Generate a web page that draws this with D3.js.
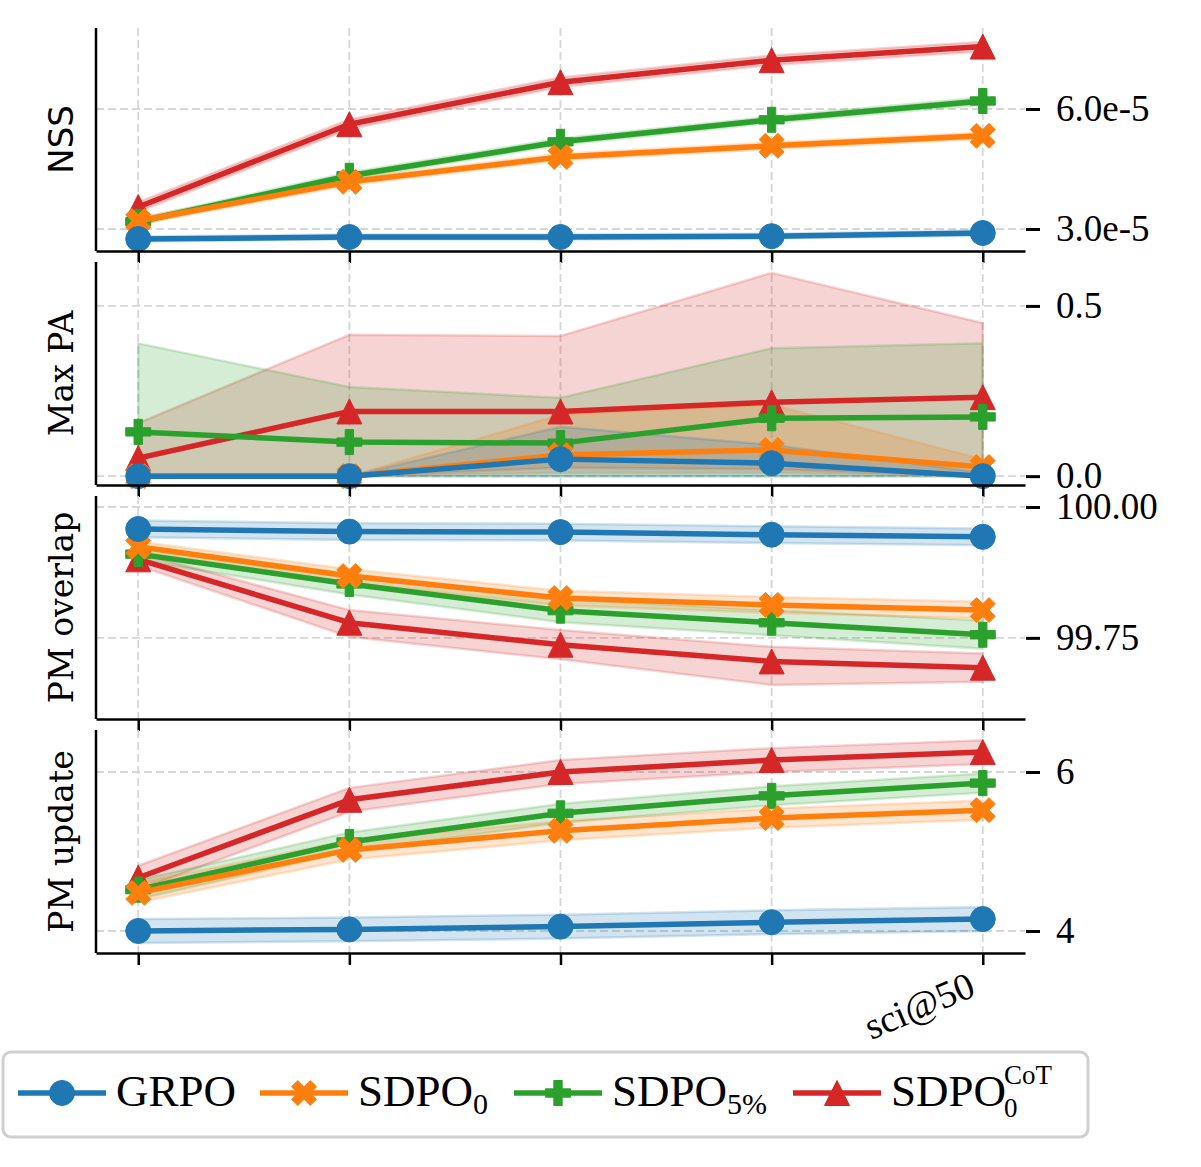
<!DOCTYPE html>
<html><head><meta charset="utf-8">
<script src="https://cdn.jsdelivr.net/npm/d3@7"></script>
<style>body{margin:0;background:#fff;} svg{display:block;}</style>
</head><body>
<svg id="chart" width="1201" height="1167"></svg>
<script>
// ---------------- DATA ----------------
const xLabels = ["", "", "", "", "sci@50"];
const seriesNames = ["GRPO", "SDPO0", "SDPO5%", "SDPO0CoT"];
const seriesColors = ["#1f77b4", "#ff7f0e", "#2ca02c", "#d62728"];
const seriesMarkers = ["circle", "x", "plus", "triangle"];

// NSS
const nssGRPO     = [2.75e-5, 2.80e-5, 2.80e-5, 2.82e-5, 2.90e-5];
const nssGRPOLo   = [2.69e-5, 2.74e-5, 2.74e-5, 2.76e-5, 2.84e-5];
const nssGRPOHi   = [2.81e-5, 2.86e-5, 2.86e-5, 2.88e-5, 2.96e-5];
const nssSDPO0    = [3.20e-5, 4.18e-5, 4.80e-5, 5.08e-5, 5.33e-5];
const nssSDPO0Lo  = [3.12e-5, 4.10e-5, 4.72e-5, 5.00e-5, 5.25e-5];
const nssSDPO0Hi  = [3.28e-5, 4.26e-5, 4.88e-5, 5.16e-5, 5.41e-5];
const nssSDPO5    = [3.18e-5, 4.33e-5, 5.18e-5, 5.73e-5, 6.20e-5];
const nssSDPO5Lo  = [3.10e-5, 4.25e-5, 5.10e-5, 5.65e-5, 6.11e-5];
const nssSDPO5Hi  = [3.26e-5, 4.41e-5, 5.26e-5, 5.81e-5, 6.29e-5];
const nssCoT      = [3.55e-5, 5.62e-5, 6.67e-5, 7.22e-5, 7.56e-5];
const nssCoTLo    = [3.43e-5, 5.50e-5, 6.55e-5, 7.10e-5, 7.44e-5];
const nssCoTHi    = [3.67e-5, 5.74e-5, 6.79e-5, 7.34e-5, 7.68e-5];

// Max PA
const paGRPO      = [0.000, 0.000, 0.050, 0.038, 0.000];
const paGRPOLo    = [0.000, 0.000, 0.000, 0.000, 0.000];
const paGRPOHi    = [0.000, 0.000, 0.145, 0.092, 0.010];
const paSDPO0     = [0.000, 0.000, 0.062, 0.077, 0.027];
const paSDPO0Lo   = [0.000, 0.000, 0.010, 0.010, 0.000];
const paSDPO0Hi   = [0.000, 0.000, 0.180, 0.210, 0.050];
const paSDPO5     = [0.130, 0.100, 0.097, 0.170, 0.174];
const paSDPO5Lo   = [0.000, 0.000, 0.000, 0.000, 0.000];
const paSDPO5Hi   = [0.390, 0.262, 0.230, 0.376, 0.390];
const paCoT       = [0.053, 0.190, 0.190, 0.217, 0.232];
const paCoTLo     = [0.000, 0.000, 0.025, 0.020, 0.000];
const paCoTHi     = [0.156, 0.415, 0.412, 0.597, 0.450];

// PM overlap
const ovGRPO      = [99.958, 99.953, 99.952, 99.947, 99.943];
const ovGRPOLo    = [99.942, 99.937, 99.936, 99.931, 99.927];
const ovGRPOHi    = [99.974, 99.969, 99.968, 99.963, 99.959];
const ovSDPO0     = [99.924, 99.868, 99.826, 99.813, 99.803];
const ovSDPO0Lo   = [99.914, 99.855, 99.812, 99.798, 99.787];
const ovSDPO0Hi   = [99.934, 99.881, 99.840, 99.828, 99.819];
const ovSDPO5     = [99.910, 99.853, 99.802, 99.779, 99.756];
const ovSDPO5Lo   = [99.898, 99.833, 99.780, 99.755, 99.729];
const ovSDPO5Hi   = [99.922, 99.873, 99.824, 99.803, 99.783];
const ovCoT       = [99.900, 99.779, 99.737, 99.705, 99.693];
const ovCoTLo     = [99.888, 99.752, 99.709, 99.660, 99.666];
const ovCoTHi     = [99.912, 99.803, 99.765, 99.733, 99.720];

// PM update
const upGRPO      = [4.00, 4.02, 4.055, 4.11, 4.15];
const upGRPOLo    = [3.85, 3.87, 3.905, 3.96, 4.00];
const upGRPOHi    = [4.15, 4.17, 4.205, 4.26, 4.30];
const upSDPO0     = [4.48, 5.02, 5.26, 5.42, 5.52];
const upSDPO0Lo   = [4.36, 4.90, 5.14, 5.30, 5.40];
const upSDPO0Hi   = [4.60, 5.14, 5.38, 5.54, 5.64];
const upSDPO5     = [4.52, 5.12, 5.48, 5.70, 5.86];
const upSDPO5Lo   = [4.40, 5.00, 5.36, 5.58, 5.74];
const upSDPO5Hi   = [4.64, 5.24, 5.60, 5.82, 5.98];
const upCoT       = [4.67, 5.65, 6.00, 6.15, 6.25];
const upCoTLo     = [4.52, 5.50, 5.85, 6.00, 6.10];
const upCoTHi     = [4.82, 5.80, 6.15, 6.30, 6.40];

const nssTicks = [3e-5, 6e-5],   nssTickLabels = ["3.0e-5", "6.0e-5"];
const paTicks  = [0.0, 0.5],     paTickLabels  = ["0.0", "0.5"];
const ovTicks  = [99.75, 100.0], ovTickLabels  = ["99.75", "100.00"];
const upTicks  = [4, 6],         upTickLabels  = ["4", "6"];

// ---------------- LAYOUT ----------------
const panels = [
  {label: "NSS", sans: true, domain: [2.45e-5, 8.025e-5], ticks: nssTicks, tickLabels: nssTickLabels,
   mean: [nssGRPO, nssSDPO0, nssSDPO5, nssCoT], lo: [nssGRPOLo, nssSDPO0Lo, nssSDPO5Lo, nssCoTLo], hi: [nssGRPOHi, nssSDPO0Hi, nssSDPO5Hi, nssCoTHi]},
  {label: "Max PA", domain: [-0.026, 0.629], ticks: paTicks, tickLabels: paTickLabels,
   mean: [paGRPO, paSDPO0, paSDPO5, paCoT], lo: [paGRPOLo, paSDPO0Lo, paSDPO5Lo, paCoTLo], hi: [paGRPOHi, paSDPO0Hi, paSDPO5Hi, paCoTHi]},
  {label: "PM overlap", domain: [99.595, 100.021], ticks: ovTicks, tickLabels: ovTickLabels,
   mean: [ovGRPO, ovSDPO0, ovSDPO5, ovCoT], lo: [ovGRPOLo, ovSDPO0Lo, ovSDPO5Lo, ovCoTLo], hi: [ovGRPOHi, ovSDPO0Hi, ovSDPO5Hi, ovCoTHi]},
  {label: "PM update", domain: [3.723, 6.528], ticks: upTicks, tickLabels: upTickLabels,
   mean: [upGRPO, upSDPO0, upSDPO5, upCoT], lo: [upGRPOLo, upSDPO0Lo, upSDPO5Lo, upCoTLo], hi: [upGRPOHi, upSDPO0Hi, upSDPO5Hi, upCoTHi]}
];

const X0 = 96, X1 = 1025;
const panelTops = [28, 262, 496, 730];
const panelH = 223;
const MS = 25;
const serif = "'Liberation Serif', 'Times New Roman', serif";
const labelSerif = "'DejaVu Serif', serif";

const svg = d3.select("#chart");
const x = d3.scaleLinear().domain([-0.2, 4.2]).range([X0, X1]);
const idx = d3.range(xLabels.length);

function markerPath(type, s) {
  const h = s / 2;
  if (type === "circle") return d3.symbol(d3.symbolCircle, Math.PI * h * h)();
  if (type === "triangle") return `M0,${-h}L${h},${h}L${-h},${h}Z`;
  if (type === "plus") {
    const a = s / 6, b = s / 2;
    return `M${-a},${-b}H${a}V${-a}H${b}V${a}H${a}V${b}H${-a}V${a}H${-b}V${-a}H${-a}Z`;
  }
  const u = s / 4;
  const pts = [[-1,-2],[0,-1],[1,-2],[2,-1],[1,0],[2,1],[1,2],[0,1],[-1,2],[-2,1],[-1,0],[-2,-1]];
  return "M" + pts.map(p => `${p[0]*u},${p[1]*u}`).join("L") + "Z";
}

panels.forEach((p, pi) => {
  const top = panelTops[pi], bottom = top + panelH;
  const y = d3.scaleLinear().domain(p.domain).range([bottom, top]);
  const g = svg.append("g");

  // grid
  g.selectAll(".vg").data(idx).join("line")
    .attr("x1", d => x(d)).attr("x2", d => x(d)).attr("y1", top).attr("y2", bottom)
    .attr("stroke", "#d6d6d6").attr("stroke-width", 1.8).attr("stroke-dasharray", "8,4");
  g.selectAll(".hg").data(p.ticks).join("line")
    .attr("x1", X0).attr("x2", X1).attr("y1", d => y(d)).attr("y2", d => y(d))
    .attr("stroke", "#d6d6d6").attr("stroke-width", 1.8).attr("stroke-dasharray", "8,4");

  const order = [3, 2, 1, 0];
  // bands
  order.forEach(si => {
    const area = d3.area().x(d => x(d)).y0(d => y(p.lo[si][d])).y1(d => y(p.hi[si][d]));
    g.append("path").attr("d", area(idx))
      .attr("fill", seriesColors[si]).attr("fill-opacity", 0.2)
      .attr("stroke", seriesColors[si]).attr("stroke-opacity", 0.2).attr("stroke-width", 2.5);
  });
  // lines + markers
  order.forEach(si => {
    const line = d3.line().x(d => x(d)).y(d => y(p.mean[si][d]));
    g.append("path").attr("d", line(idx)).attr("fill", "none")
      .attr("stroke", seriesColors[si]).attr("stroke-width", 5.5).attr("stroke-linejoin", "round");
    g.selectAll(null).data(idx).join("path")
      .attr("transform", d => `translate(${x(d)},${y(p.mean[si][d])})`)
      .attr("d", markerPath(seriesMarkers[si], MS))
      .attr("fill", seriesColors[si]).attr("stroke", seriesColors[si]).attr("stroke-width", 1);
  });

  // left spine
  g.append("line").attr("x1", X0).attr("x2", X0).attr("y1", top).attr("y2", bottom)
    .attr("stroke", "#000").attr("stroke-width", 2.5);

  // bottom x axis
  const last = pi === panels.length - 1;
  const xa = g.append("g").attr("transform", `translate(0,${bottom})`)
    .call(d3.axisBottom(x).tickValues(idx).tickSize(12).tickSizeOuter(0).tickPadding(8)
      .tickFormat(d => last ? xLabels[d] : ""));
  xa.select(".domain").attr("stroke-width", 2.5);
  xa.selectAll(".tick line").attr("stroke-width", 2.5);
  xa.selectAll(".tick text")
    .attr("font-family", serif).attr("font-size", 38).attr("fill", "#000")
    .attr("text-anchor", "end").attr("dy", null).attr("y", null)
    .attr("transform", "translate(-6,42) rotate(-23)");

  // right y axis
  const ya = g.append("g").attr("transform", `translate(${X1 + 1},0)`)
    .call(d3.axisRight(y).tickValues(p.ticks).tickSize(14).tickPadding(16)
      .tickFormat((d, i) => p.tickLabels[i]));
  ya.select(".domain").remove();
  ya.selectAll(".tick line").attr("stroke-width", 3);
  ya.selectAll(".tick text").attr("font-family", serif).attr("font-size", 37).attr("fill", "#000");

  // y label
  svg.append("text")
    .attr("transform", `translate(73,${(top + bottom) / 2}) rotate(-90)`)
    .attr("text-anchor", "middle")
    .attr("font-family", p.sans ? "'DejaVu Sans', sans-serif" : labelSerif)
    .attr("font-size", p.sans ? 34 : 33)
    .text(p.label);
});

// ---------------- LEGEND ----------------
const lg = svg.append("g");
lg.append("rect").attr("x", 3).attr("y", 1052).attr("width", 1085).attr("height", 85)
  .attr("rx", 8).attr("fill", "#fff").attr("stroke", "#d0d0d0").attr("stroke-width", 3);
const legendX = [18, 260, 514, 793];
const LY = 1093;
seriesNames.forEach((name, si) => {
  const lx = legendX[si];
  lg.append("line").attr("x1", lx).attr("x2", lx + 88).attr("y1", LY).attr("y2", LY)
    .attr("stroke", seriesColors[si]).attr("stroke-width", 5.5);
  lg.append("path").attr("transform", `translate(${lx + 44},${LY})`)
    .attr("d", markerPath(seriesMarkers[si], MS))
    .attr("fill", seriesColors[si]).attr("stroke", seriesColors[si]).attr("stroke-width", 1);
  const t = lg.append("text").attr("x", lx + 98).attr("y", 1106)
    .attr("font-family", serif).attr("font-size", 45).attr("fill", "#000");
  if (si === 0) {
    t.text("GRPO");
  } else if (si === 1) {
    t.append("tspan").text("SDPO");
    t.append("tspan").attr("dy", 8).attr("font-size", 30).text("0");
  } else if (si === 2) {
    t.append("tspan").text("SDPO");
    t.append("tspan").attr("dy", 8).attr("font-size", 30).text("5%");
  } else {
    t.append("tspan").text("SDPO");
    const xs = lx + 98 + 111;
    lg.append("text").attr("x", xs + 2).attr("y", 1084)
      .attr("font-family", serif).attr("font-size", 27).text("CoT");
    lg.append("text").attr("x", xs + 2).attr("y", 1117)
      .attr("font-family", serif).attr("font-size", 27).text("0");
  }
});
</script>
</body></html>
